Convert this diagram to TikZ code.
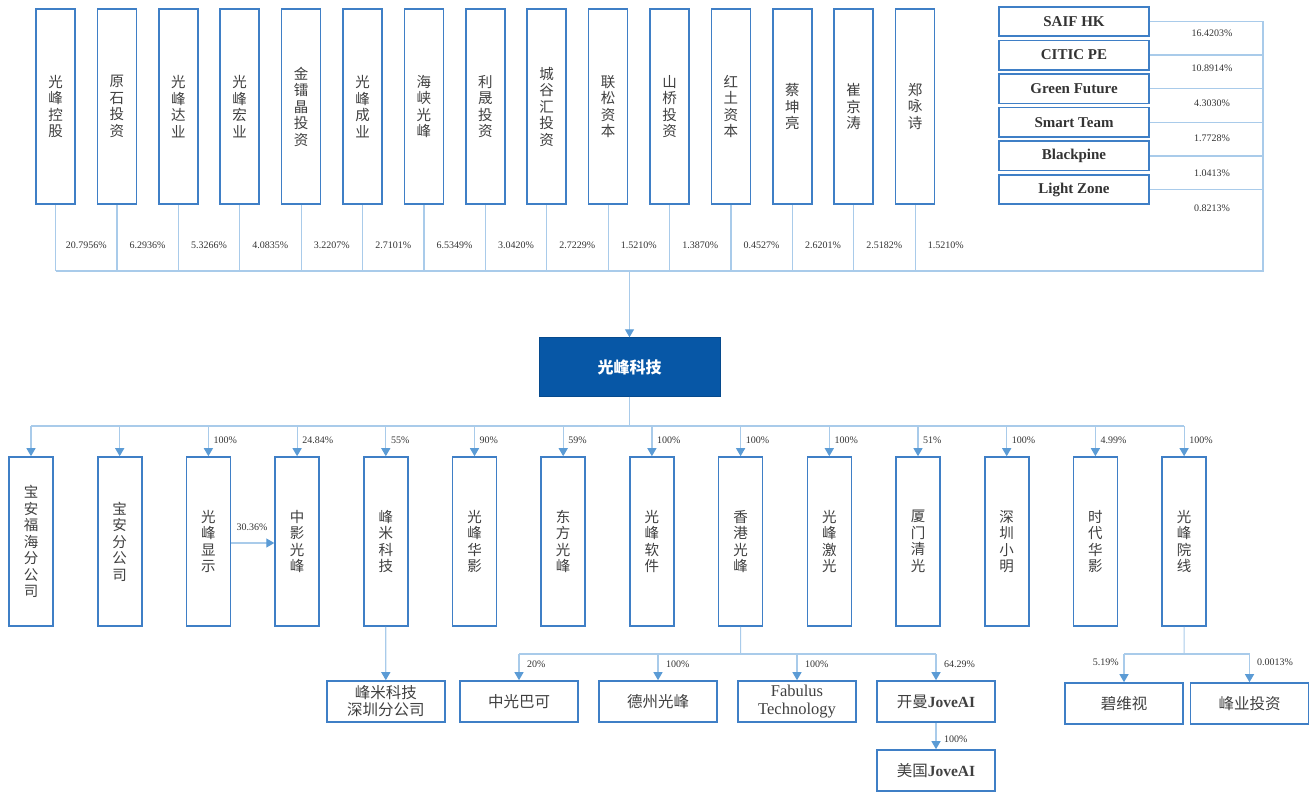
\documentclass[tikz,border=0pt]{standalone}
\usepackage{fontspec}
\setmainfont{Liberation Serif}
\newfontfamily\cjk{Noto Sans CJK SC}
\usetikzlibrary{arrows.meta}

\definecolor{boxblue}{HTML}{3F7FC6}
\definecolor{linkblue}{HTML}{A9CBEA}
\definecolor{arrowblue}{HTML}{5B9BD5}
\definecolor{coreblue}{HTML}{0757A6}

\tikzset{
  holder/.style={draw=boxblue,line width=1.6pt,fill=white,minimum width=39pt,minimum height=195pt,
    inner sep=0pt,align=center,font=\cjk\fontsize{14.5}{16.5}\selectfont,text=black!75},
  subco/.style={holder,minimum width=44pt,minimum height=169pt},
  fund/.style={draw=boxblue,line width=1.6pt,minimum width=150pt,minimum height=29.5pt,inner sep=0pt,
    font=\fontsize{15}{17}\selectfont\bfseries,text=black!80},
  leaf/.style={draw=boxblue,line width=1.6pt,minimum width=118pt,minimum height=41pt,inner sep=0pt,
    align=center,font=\cjk\fontsize{15.5}{17}\selectfont,text=black!75},
  core/.style={draw=coreblue!85!black,fill=coreblue,minimum width=181pt,minimum height=59pt,
    font=\cjk\bfseries\fontsize{16}{18}\selectfont,text=white},
  pct/.style={font=\fontsize{10}{12}\selectfont,text=black!80,inner sep=0pt},
  link/.style={draw=linkblue,line width=1.2pt},
  arr/.style={link,-{Triangle[length=8pt,width=9pt,color=arrowblue]}}
}

\begin{document}
\begin{tikzpicture}[x=1pt,y=-1pt]
  \useasboundingbox (0,0) rectangle (1309,792);

  % Shareholders
  \coordinate (topbus) at (55.5,271);
  \coordinate (topbusR) at (1263,271);
  \foreach \txt/\pct [count=\i] in {{光\\峰\\控\\股}/20.7956, {原\\石\\投\\资}/6.2936, {光\\峰\\达\\业}/5.3266,
      {光\\峰\\宏\\业}/4.0835, {金\\镭\\晶\\投\\资}/3.2207, {光\\峰\\成\\业}/2.7101, {海\\峡\\光\\峰}/6.5349,
      {利\\晟\\投\\资}/3.0420, {城\\谷\\汇\\投\\资}/2.7229, {联\\松\\资\\本}/1.5210, {山\\桥\\投\\资}/1.3870,
      {红\\土\\资\\本}/0.4527, {蔡\\坤\\亮}/2.6201, {崔\\京\\涛}/2.5182, {郑\\咏\\诗}/1.5210}{
    \node[holder] (sh\i) at ({55.5+61.4*(\i-1)},106.5) {\txt};
    \draw[link] (sh\i.south) -- (sh\i.south |- topbus);
    \node[pct] (shp\i) at ({86.2+61.4*(\i-1)},245) {\pct\%};
  }
  \foreach \txt/\pct [count=\i] in {SAIF HK/16.4203, CITIC PE/10.8914, Green Future/4.3030,
      Smart Team/1.7728, Blackpine/1.0413, Light Zone/0.8213}{
    \node[fund] (fd\i) at (1074,{21.5+33.6*(\i-1)}) {\txt};
    \draw[link] (fd\i.east) -- (fd\i.east -| topbusR);
    \node[pct] (fdp\i) at (1212,{33+35*(\i-1)}) {\pct\%};
  }
  \draw[link] (sh1.south |- topbus) -- (topbusR) -- (topbusR |- fd1.east);

  % Company
  \node[core] (core) at (629.5,367) {光峰科技};
  \draw[arr] (core.north |- topbus) -- (core.north);

  % Subsidiaries
  \coordinate (subbus) at (31,426);
  \draw[link] (core.south) -- (core.south |- subbus);
  \foreach \txt/\pct [count=\i] in {{宝\\安\\福\\海\\分\\公\\司}/{}, {宝\\安\\分\\公\\司}/{},
      {光\\峰\\显\\示}/100\%, {中\\影\\光\\峰}/24.84\%, {峰\\米\\科\\技}/55\%, {光\\峰\\华\\影}/90\%,
      {东\\方\\光\\峰}/59\%, {光\\峰\\软\\件}/100\%, {香\\港\\光\\峰}/100\%, {光\\峰\\激\\光}/100\%,
      {厦\\门\\清\\光}/51\%, {深\\圳\\小\\明}/100\%, {时\\代\\华\\影}/4.99\%, {光\\峰\\院\\线}/100\%}{
    \node[subco] (sub\i) at ({31+88.7*(\i-1)},541.5) {\txt};
    \draw[arr] (sub\i.north |- subbus) -- (sub\i.north);
    \node[pct,anchor=west] (subp\i) at ({36+88.7*(\i-1)},440) {\pct};
  }
  \draw[link] (sub1.north |- subbus) -- (sub14.north |- subbus);
  \coordinate (crossy) at (0,543);
  \draw[arr] (sub3.east |- crossy) -- (sub4.west |- crossy);
  \node[pct] (xp) at (252,527) {30.36\%};

  % Third level
  \node[leaf] (fmsz) at (385.8,701.5) {峰米科技\\深圳分公司};
  \draw[arr] (sub5.south) -- (fmsz.north);

  \coordinate (hkbus) at (740.6,654);
  \node[leaf] (hk1) at (519,701.5) {中光巴可};
  \node[leaf] (hk2) at (658,701.5) {德州光峰};
  \node[leaf,font=\rmfamily\fontsize{16.5}{18}\selectfont] (hk3) at (797,701.5) {Fabulus\\Technology};
  \node[leaf] (hk4) at (936,701.5) {开曼{\rmfamily\bfseries JoveAI}};
  \draw[link] (sub9.south) -- (hkbus);
  \draw[link] (hk1.north |- hkbus) -- (hk4.north |- hkbus);
  \foreach \i/\pct in {1/20\%, 2/100\%, 3/100\%, 4/64.29\%}{
    \draw[arr] (hk\i.north |- hkbus) -- (hk\i.north);
    \node[pct,anchor=west] (hkp\i) at ([xshift=8pt]hk\i.north |- 0,664) {\pct};
  }
  \node[leaf] (usj) at (936,770.5) {美国{\rmfamily\bfseries JoveAI}};
  \draw[arr] (hk4.south) -- (usj.north);
  \node[pct,anchor=west] (usp) at (944,739) {100\%};

  \coordinate (cnbus) at (1184.1,654);
  \node[leaf] (bwv) at (1124,703.5) {碧维视};
  \node[leaf] (fyi) at (1249.5,703.5) {峰业投资};
  \draw[link] (sub14.south) -- (cnbus);
  \draw[link] (bwv.north |- cnbus) -- (fyi.north |- cnbus);
  \draw[arr] (bwv.north |- cnbus) -- (bwv.north);
  \draw[arr] (fyi.north |- cnbus) -- (fyi.north);
  \node[pct,anchor=east] (bwvp) at (1119,662) {5.19\%};
  \node[pct,anchor=west] (fyip) at (1257,662) {0.0013\%};
\end{tikzpicture}
\end{document}
